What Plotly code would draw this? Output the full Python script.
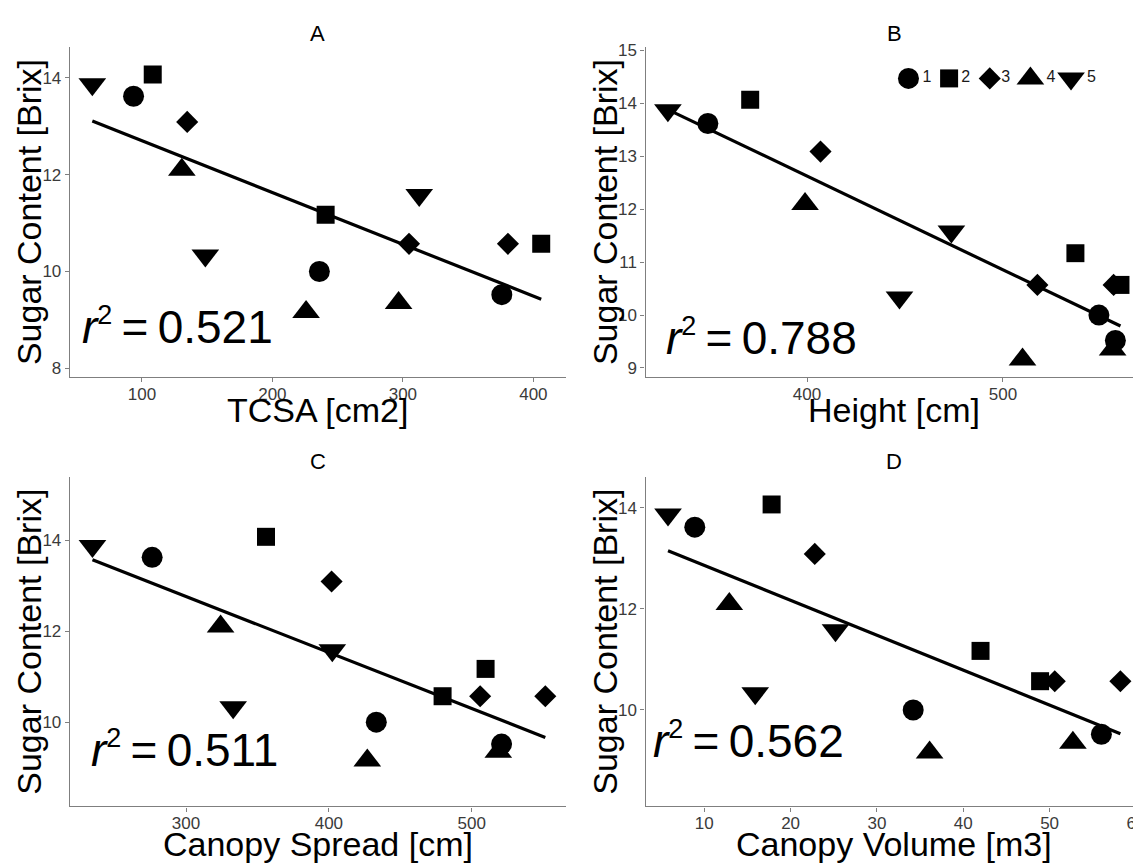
import numpy as np
import plotly.graph_objects as go

# The original figure is slightly wider than the 1133 px picture (its right edge is cropped)
W, H = 1145, 863

# ---------------- data ----------------
group = [1, 1, 1, 2, 2, 2, 3, 3, 3, 4, 4, 4, 5, 5, 5]
sugar = [13.62, 10.00, 9.52, 14.07, 11.17, 10.57, 13.09, 10.57, 10.57,
         12.10, 9.16, 9.35, 13.87, 10.33, 11.58]
tcsa = [93.6, 236.0, 375.8, 108.3, 240.8, 406.0, 134.7, 304.7, 380.5,
        130.6, 225.8, 296.7, 62.0, 148.6, 312.5]
height = [349.4, 549.0, 557.4, 371.0, 537.0, 560.0, 406.9, 517.6, 556.5,
          399.0, 510.0, 556.0, 329.0, 447.2, 473.7]
spread = [276.3, 433.2, 520.9, 356.0, 509.7, 479.6, 401.9, 505.9, 551.5,
          324.2, 426.9, 518.6, 234.5, 333.0, 402.4]
volume = [8.9, 34.2, 56.0, 17.8, 42.0, 48.9, 22.8, 50.6, 58.2,
          12.9, 36.1, 52.7, 5.8, 15.9, 25.2]

group_labels = ["1", "2", "3", "4", "5"]
panel_letters = ["A", "B", "C", "D"]
x_titles = ["TCSA [cm2]", "Height [cm]", "Canopy Spread [cm]", "Canopy Volume [m3]"]
y_title = "Sugar Content [Brix]"
r2_labels = ["0.521", "0.788", "0.511", "0.562"]

# ---------------- styling / layout ----------------
symbols = ["circle", "square", "diamond", "triangle-up", "triangle-down"]
msizes = [21, 18, 17, 24, 24]
FONT = "Liberation Sans, Arial, Helvetica, sans-serif"


def px(x):
    return x / W


def py(y):
    return 1 - y / H


# plot-area pixel boxes: (left, right, top, bottom)
boxes = [(70, 567, 41.7, 374), (646.7, 1145, 41.7, 374),
         (70, 567, 475, 807), (646.7, 1145, 475, 807)]
xranges = [[44.8, 425.0], [317.6, 571.5], [218.7, 566.0], [3.2, 60.82]]
yranges = [[7.82, 14.63], [8.83, 15.06], [8.15, 15.38], [8.09, 14.61]]
xticks = [[100, 200, 300, 400], [400, 500], [300, 400, 500], [10, 20, 30, 40, 50, 60]]
yticks = [[8, 10, 12, 14], [9, 10, 11, 12, 13, 14, 15], [10, 12, 14], [10, 12, 14]]
title_centers = [318.5, 896, 318.5, 896]
title_y = [28, 28, 459, 459]
xtitle_y = [407, 407, 845, 845]
ytitle_x = [29, 606, 29, 606]
r2_pos = [(80, 323), (665, 334), (89, 750), (652, 741)]

xdata = [tcsa, height, spread, volume]

fig = go.Figure()
group_arr = np.array(group)
sugar_arr = np.array(sugar)

for p in range(4):
    xa = "x" if p == 0 else f"x{p+1}"
    ya = "y" if p == 0 else f"y{p+1}"
    xv = np.array(xdata[p])
    # regression line
    slope, icpt = np.polyfit(xv, sugar_arr, 1)
    lx = np.array([xv.min(), xv.max()])
    fig.add_trace(go.Scatter(x=lx, y=icpt + slope * lx, mode="lines",
                             line=dict(color="black", width=3.2),
                             showlegend=False, hoverinfo="skip",
                             xaxis=xa, yaxis=ya))
    for g in range(5):
        m = group_arr == (g + 1)
        fig.add_trace(go.Scatter(
            x=xv[m], y=sugar_arr[m], mode="markers",
            marker=dict(symbol=symbols[g], size=msizes[g], color="black",
                        opacity=1, line=dict(width=0)),
            name=group_labels[g], showlegend=False, xaxis=xa, yaxis=ya))

# key for the groups (drawn in panel B, on its own hidden axis: one slot per group)
fig.add_trace(go.Scatter(
    x=list(range(len(group_labels))), y=[0] * len(group_labels),
    mode="markers+text", text=group_labels, textposition="middle right",
    textfont=dict(size=16, color="#1a1a1a"),
    marker=dict(symbol=symbols, size=msizes, color="black", opacity=1,
                line=dict(width=0)),
    cliponaxis=False, showlegend=False, hoverinfo="skip",
    xaxis="x5", yaxis="y5"))

axis_common = dict(showline=True, linecolor="#7f7f7f", linewidth=1.3,
                   ticks="outside", ticklen=4, tickcolor="#7f7f7f", tickwidth=1.2,
                   showgrid=False, zeroline=False, ticklabeloverflow="allow",
                   tickfont=dict(size=17, color="#3a3a3a", family=FONT))

layout = dict(width=W, height=H, margin=dict(l=0, r=0, t=0, b=0),
              paper_bgcolor="white", plot_bgcolor="white",
              font=dict(family=FONT, color="black"), showlegend=False)

for p in range(4):
    l, r, t, b = boxes[p]
    xk = "xaxis" if p == 0 else f"xaxis{p+1}"
    yk = "yaxis" if p == 0 else f"yaxis{p+1}"
    xa = "x" if p == 0 else f"x{p+1}"
    ya = "y" if p == 0 else f"y{p+1}"
    layout[xk] = dict(axis_common, domain=[px(l), px(r)], range=xranges[p],
                      tickvals=xticks[p], anchor=ya, ticklabelstandoff=-3)
    layout[yk] = dict(axis_common, domain=[py(b), py(t)], range=yranges[p],
                      tickvals=yticks[p], anchor=xa)

# key axis: slot 0 centred at 910 px, 40.6 px per slot
layout["xaxis5"] = dict(domain=[px(890), px(1110)], range=[-20 / 40.6, 4 + 37 / 40.6],
                        visible=False, anchor="y5")
layout["yaxis5"] = dict(domain=[py(93), py(53)], range=[-1, 1], visible=False, anchor="x5")

annotations = []
for p in range(4):
    annotations.append(dict(text=panel_letters[p], x=px(title_centers[p]), y=py(title_y[p]),
                            xref="paper", yref="paper", showarrow=False,
                            xanchor="center", yanchor="middle",
                            font=dict(size=22, color="black")))
    annotations.append(dict(text=x_titles[p], x=px(title_centers[p]), y=py(xtitle_y[p]),
                            xref="paper", yref="paper", showarrow=False,
                            xanchor="center", yanchor="middle",
                            font=dict(size=34, color="black")))
    annotations.append(dict(text=y_title, x=px(ytitle_x[p]),
                            y=py((boxes[p][2] + boxes[p][3]) / 2),
                            xref="paper", yref="paper", showarrow=False, textangle=-90,
                            xanchor="center", yanchor="middle",
                            font=dict(size=34, color="black")))
    annotations.append(dict(
        text="<i>r</i><sup><span style='font-size:27px'>2</span></sup>\u2009=\u2009" + r2_labels[p],
        x=px(r2_pos[p][0]), y=py(r2_pos[p][1]), xref="paper", yref="paper",
        showarrow=False, xanchor="left", yanchor="middle",
        font=dict(size=46, color="black")))

layout["annotations"] = annotations

fig.update_layout(**layout)
fig.write_html("out.html", config={"displayModeBar": False, "responsive": False},
               post_script="document.body.style.margin='0px';document.body.style.overflow='hidden';")
